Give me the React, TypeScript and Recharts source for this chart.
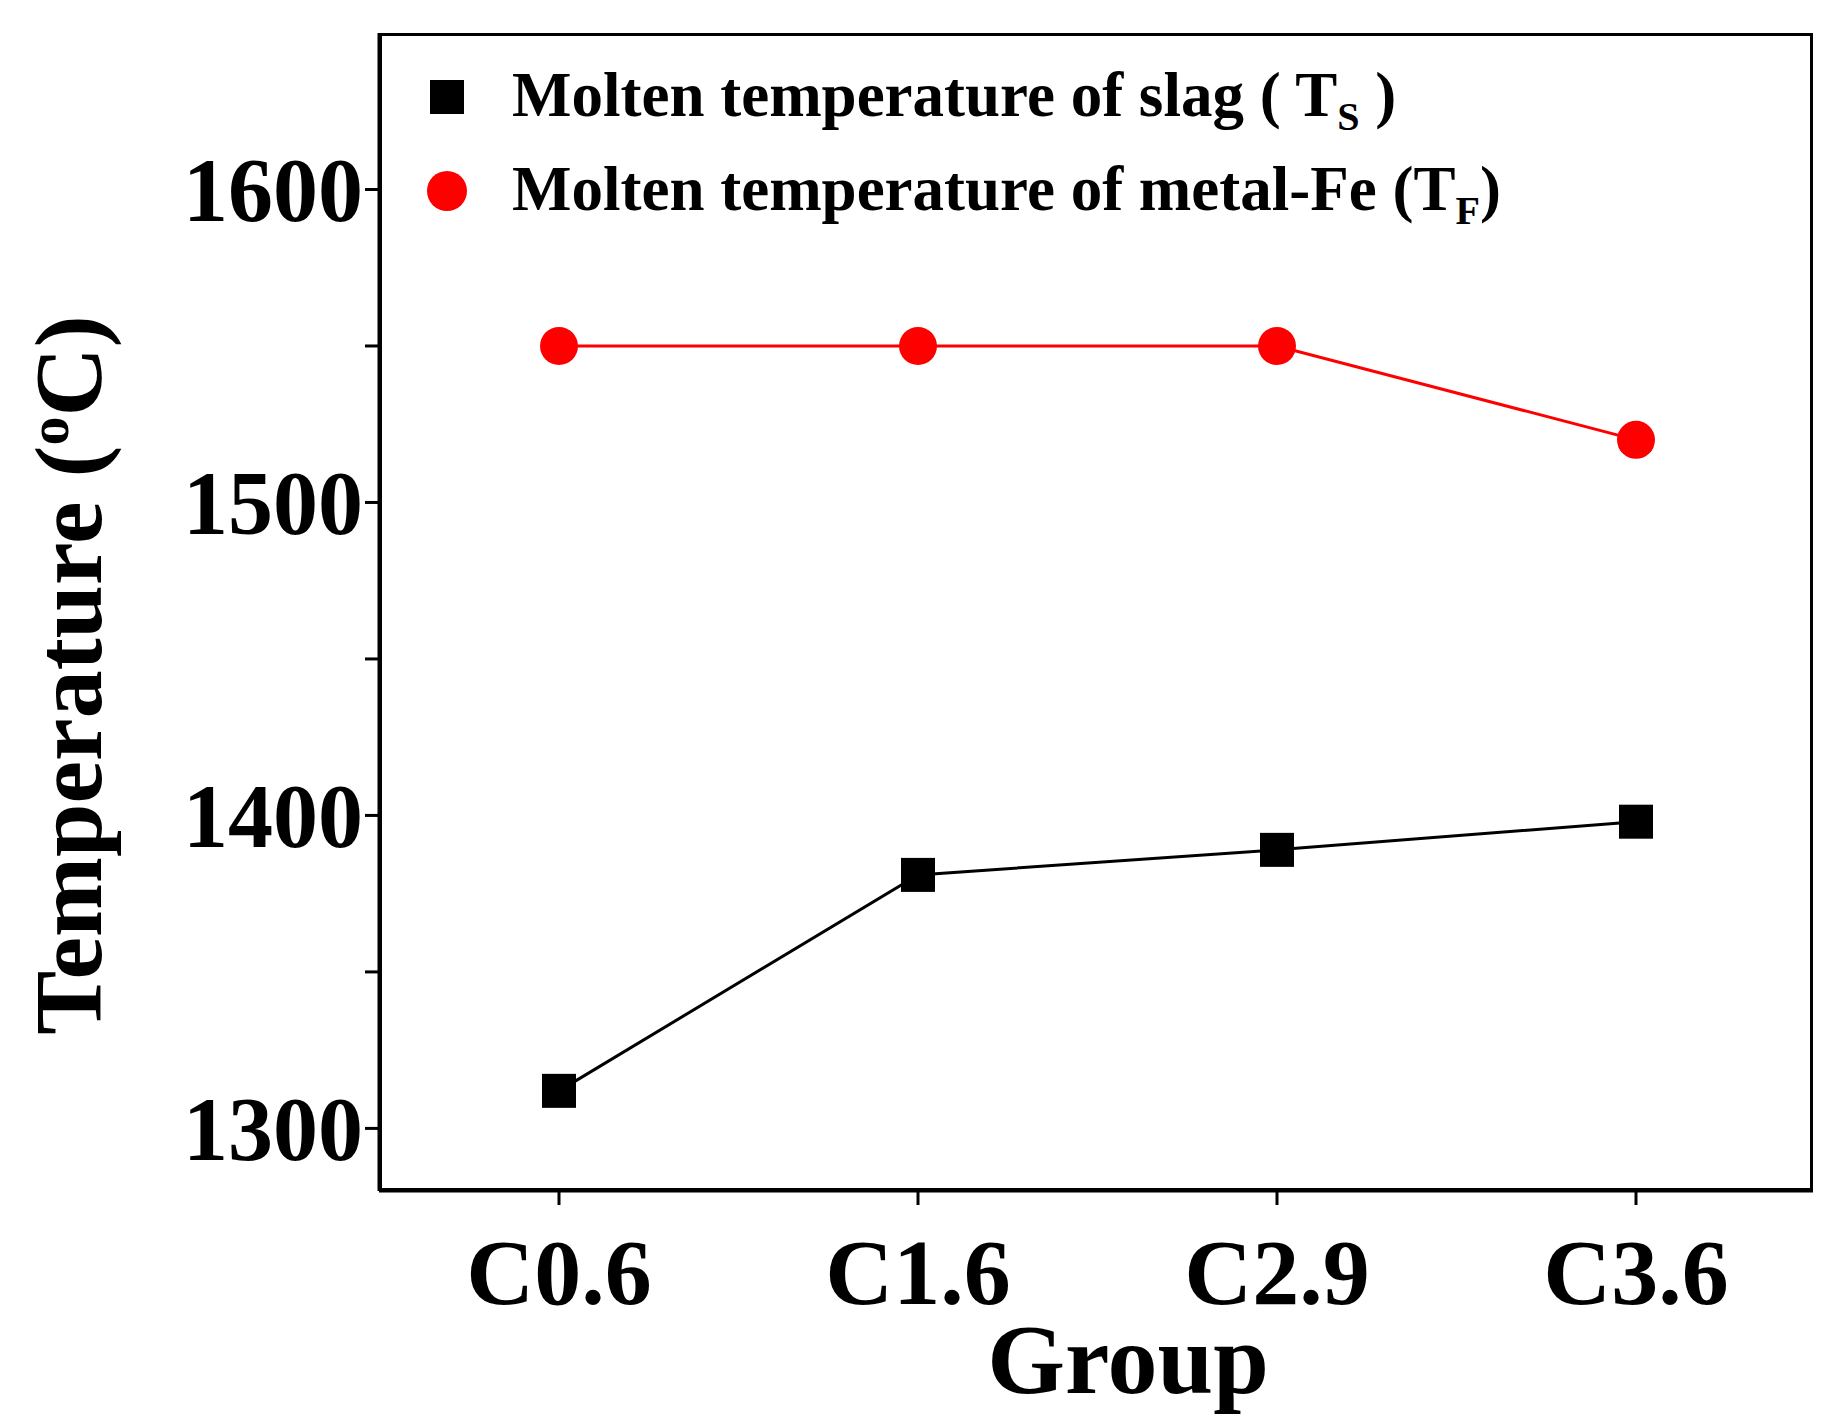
import React from 'react';
import { LineChart, Line, XAxis, YAxis } from 'recharts';

const groups = ['C0.6', 'C1.6', 'C2.9', 'C3.6'];
const slagTemps = [1312, 1381, 1389, 1398];
const ironTemps = [1550, 1550, 1550, 1520];
const yTicks = [1300, 1350, 1400, 1450, 1500, 1550, 1600];

const data = groups.map((g, i) => ({ group: g, slag: slagTemps[i], iron: ironTemps[i] }));

const font = '"Liberation Serif", "Times New Roman", serif';

const SquareDot = (props: any) => {
  const { cx, cy } = props;
  return <rect x={cx - 17} y={cy - 17} width={34} height={34} fill="#000" />;
};

export default function App() {
  return (
    <div style={{ position: 'absolute', left: 0, top: 0, width: 1836, height: 1419, background: '#fff', fontFamily: font }}>
      <LineChart width={1836} height={1419} data={data} margin={{ top: 33, right: 23, bottom: 0, left: 199 }}>
        <XAxis
          dataKey="group"
          height={228}
          padding={{ left: 180, right: 177 }}
          stroke="#000"
          strokeWidth={3}
          tickSize={14}
          tick={{ fill: '#000', fontSize: 94, fontWeight: 'bold', fontFamily: font, dy: 30 }}
        />
        <YAxis
          domain={[1280, 1650]}
          ticks={yTicks}
          width={180}
          stroke="#000"
          strokeWidth={3}
          tickSize={14}
          tickFormatter={(v: number) => (v % 100 === 0 ? String(v) : '')}
          tick={{ fill: '#000', fontSize: 90, fontWeight: 'bold', fontFamily: font }}
        />
        <Line dataKey="iron" stroke="#ff0000" strokeWidth={3} dot={{ r: 19, fill: '#ff0000', stroke: 'none' }} isAnimationActive={false} />
        <Line dataKey="slag" stroke="#000" strokeWidth={3} dot={<SquareDot />} isAnimationActive={false} />
      </LineChart>
      <div style={{ position: 'absolute', left: 379, top: 33, width: 1434, height: 1158, border: '3px solid #000', boxSizing: 'border-box', pointerEvents: 'none' }} />
      <div style={{ position: 'absolute', left: 430, top: 80, width: 34, height: 34, background: '#000' }} />
      <div style={{ position: 'absolute', left: 427, top: 171, width: 40, height: 40, borderRadius: 20, background: '#ff0000' }} />
      <div style={{ position: 'absolute', left: 512, top: 58, fontSize: 63, fontWeight: 'bold', whiteSpace: 'nowrap', lineHeight: 1.2 }}>
        Molten temperature of slag ( T<sub style={{ fontSize: 40 }}>S</sub> )
      </div>
      <div style={{ position: 'absolute', left: 512, top: 152, fontSize: 63, fontWeight: 'bold', whiteSpace: 'nowrap', lineHeight: 1.2 }}>
        Molten temperature of metal-Fe (T<sub style={{ fontSize: 40 }}>F</sub>)
      </div>
      <div style={{ position: 'absolute', left: 68, top: 675, transform: 'translate(-50%, -50%) rotate(-90deg)', fontSize: 96, fontWeight: 'bold', whiteSpace: 'nowrap' }}>
        Temperature (<sup style={{ fontSize: 58 }}>o</sup>C)
      </div>
      <div style={{ position: 'absolute', left: 1128, top: 1360, transform: 'translate(-50%, -50%)', fontSize: 100, fontWeight: 'bold', whiteSpace: 'nowrap', lineHeight: 1 }}>
        Group
      </div>
    </div>
  );
}
